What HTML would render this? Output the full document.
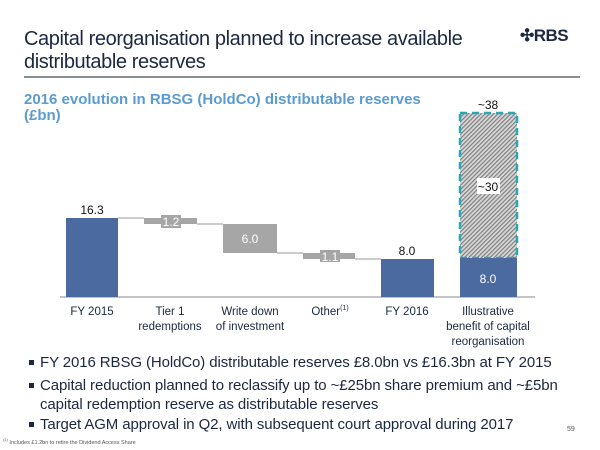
<!DOCTYPE html>
<html><head><meta charset="utf-8"><style>
body{margin:0;width:600px;height:450px;background:#fff;position:relative;overflow:hidden;font-family:"Liberation Sans",sans-serif;}
.a{position:absolute;white-space:nowrap;}
.t{color:#1c2740;font-size:20px;letter-spacing:-0.4px;left:24px;line-height:23px;}
.sub{color:#5b9bd0;font-weight:bold;font-size:15px;left:24px;}
.lab{font-size:11.5px;color:#1c2740;text-align:center;line-height:15px;}
.b{font-size:15px;letter-spacing:-0.1px;color:#1c2740;left:40px;line-height:19px;}
.b:before{content:"";position:absolute;left:-11px;top:7px;width:5px;height:5px;background:#1c2740;}
sup{line-height:0;font-size:7px;vertical-align:5px;}
</style></head><body>
<div class="a t" style="top:28px">Capital reorganisation planned to increase available</div>
<div class="a t" style="top:51px">distributable reserves</div>
<div class="a" style="left:520px;top:26px;font-weight:bold;font-size:17px;color:#1c2740;letter-spacing:-0.5px">✣RBS</div>
<div class="a" style="left:24px;top:76px;width:556px;height:2px;background:#8a8e94"></div>
<div class="a sub" style="top:91px">2016 evolution in RBSG (HoldCo) distributable reserves</div>
<div class="a sub" style="top:107px">(£bn)</div>
<svg class="a" style="left:0;top:0" width="600" height="450">
<defs><pattern id="h" width="3" height="3" patternUnits="userSpaceOnUse" patternTransform="rotate(45)"><rect width="3" height="3" fill="#d8d8d8"/><rect width="1.2" height="3" fill="#808080"/></pattern></defs>
<line x1="60" y1="297" x2="535" y2="297" stroke="#888" stroke-width="1"/>
<rect x="66" y="218" width="52" height="79" fill="#4a6aa0"/>
<line x1="118" y1="218" x2="144" y2="218" stroke="#999"/>
<rect x="144" y="218" width="53" height="6" fill="#a6a6a6"/>
<rect x="161" y="215" width="20" height="13" fill="#a6a6a6"/>
<line x1="197" y1="224" x2="223" y2="224" stroke="#999"/>
<rect x="223" y="224" width="54" height="29" fill="#a6a6a6"/>
<line x1="277" y1="253" x2="303" y2="253" stroke="#999"/>
<rect x="303" y="253" width="52" height="6" fill="#a6a6a6"/>
<rect x="320" y="250" width="20" height="12" fill="#a6a6a6"/>
<line x1="355" y1="259" x2="381" y2="259" stroke="#999"/>
<rect x="381" y="259" width="53" height="38" fill="#4a6aa0"/>
<rect x="460" y="113" width="57" height="145" fill="url(#h)" stroke="#2aa7b0" stroke-width="2.5" stroke-dasharray="7,5"/>
<rect x="460" y="258" width="57" height="39" fill="#4a6aa0"/>
<rect x="477" y="178" width="23" height="16" fill="#fff"/>
<g font-family="Liberation Sans" font-size="12" text-anchor="middle">
<text x="92" y="214" fill="#111">16.3</text>
<text x="171" y="226" fill="#fff">1.2</text>
<text x="250" y="243" fill="#fff">6.0</text>
<text x="330" y="261" fill="#fff">1.1</text>
<text x="407" y="255" fill="#111">8.0</text>
<text x="488" y="283" fill="#fff">8.0</text>
<text x="488" y="191" fill="#111">~30</text>
<text x="488" y="109" fill="#111">~38</text>
</g>
</svg>
<div class="a lab" style="left:52px;top:305px;width:80px">FY 2015</div>
<div class="a lab" style="left:130px;top:305px;width:80px">Tier 1<br>redemptions</div>
<div class="a lab" style="left:210px;top:305px;width:80px">Write down<br>of investment</div>
<div class="a lab" style="left:290px;top:305px;width:80px">Other<sup>(1)</sup></div>
<div class="a lab" style="left:367px;top:305px;width:80px">FY 2016</div>
<div class="a lab" style="left:438px;top:305px;width:100px">Illustrative<br>benefit of capital<br>reorganisation</div>
<div class="a b" style="top:353px">FY 2016 RBSG (HoldCo) distributable reserves £8.0bn vs £16.3bn at FY 2015</div>
<div class="a b" style="top:376px">Capital reduction planned to reclassify up to ~£25bn share premium and ~£5bn<br>capital redemption reserve as distributable reserves</div>
<div class="a b" style="top:415px">Target AGM approval in Q2, with subsequent court approval during 2017</div>
<div class="a" style="left:567px;top:426px;font-size:7px;color:#555">59</div>
<div class="a" style="left:3px;top:440px;font-size:5.5px;color:#555"><sup style="font-size:4px;vertical-align:3px">(1)</sup> Includes £1.2bn to retire the Dividend Access Share</div>
</body></html>
